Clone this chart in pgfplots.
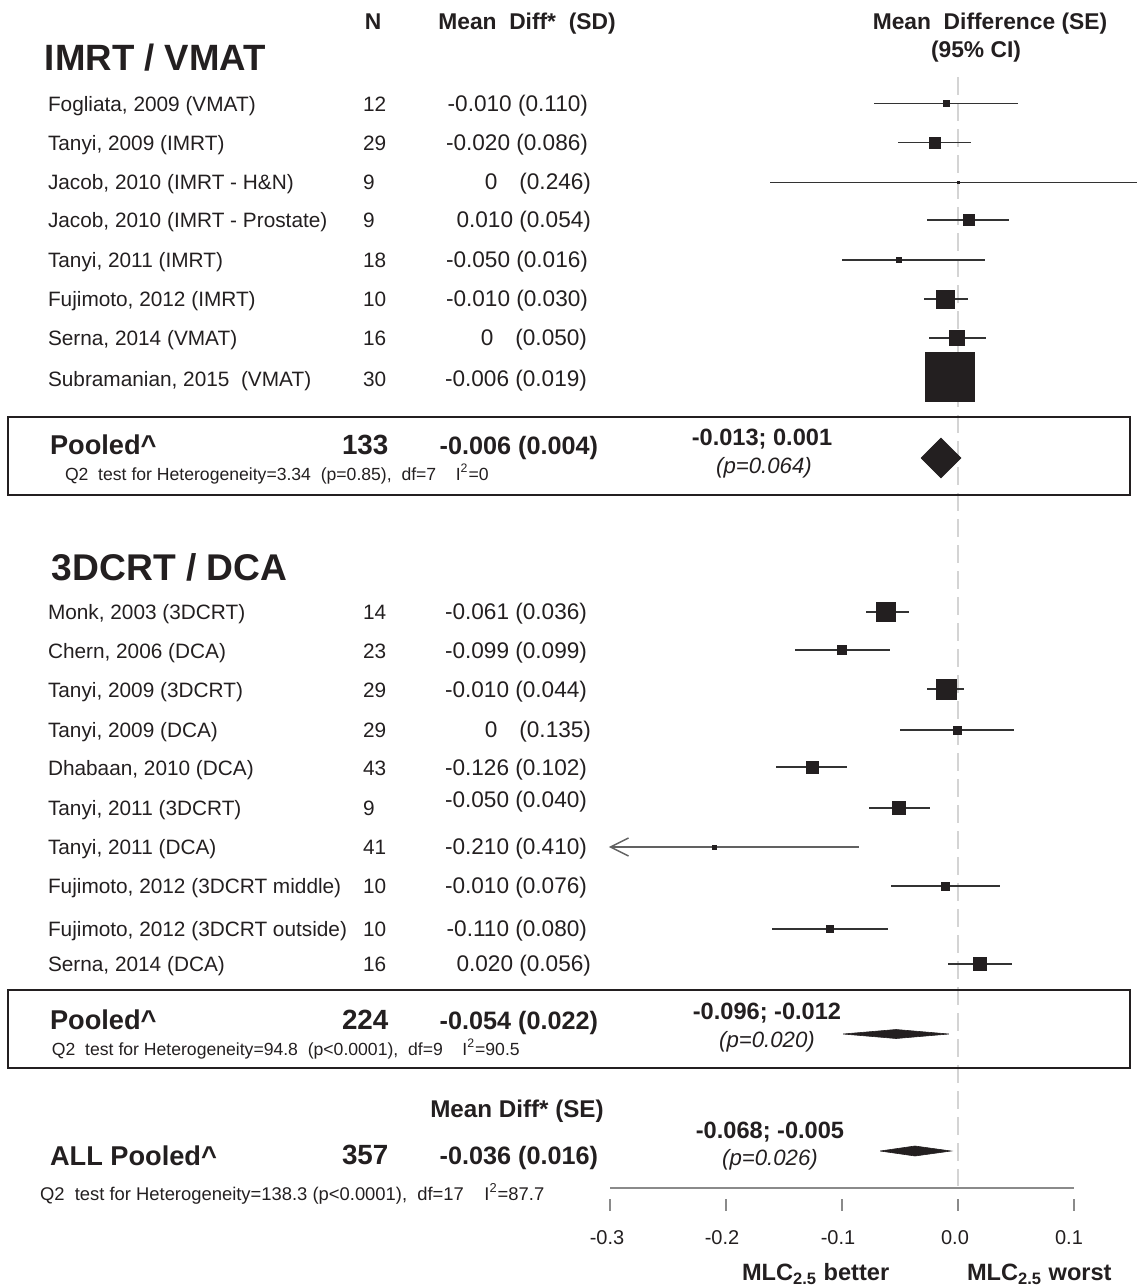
\documentclass[border=0pt]{standalone}
\usepackage{pgfplots}
\pgfplotsset{compat=1.18}
\usepackage{pgfplotstable}
\usepackage{fontspec}
\setmainfont{Liberation Sans}
\usetikzlibrary{arrows.meta}
\definecolor{ink}{HTML}{231F20}
\definecolor{cil}{HTML}{333333}
\definecolor{zer}{HTML}{D4D4D4}
\definecolor{axg}{HTML}{8A8A8A}
\newcommand\fs[1]{\fontsize{#1}{#1}\selectfont}

% y (pixel row), mean, CI low, CI high, square side (px)
\pgfplotstableread{
y m lo hi s
103.5 -0.0103 -0.0724 0.0517 6
142.5 -0.0198 -0.0517 0.0112 11
182.5 0.0000 -0.1620 0.1543 2
220 0.0095 -0.0267 0.0440 11
260 -0.0509 -0.1000 0.0233 5
299 -0.0112 -0.0293 0.0086 18
338 -0.0009 -0.0250 0.0241 15
377 -0.0069 -0.0069 -0.0069 49
}\imrt

\pgfplotstableread{
y m lo hi s
612 -0.0621 -0.0793 -0.0422 19
650 -0.1000 -0.1405 -0.0586 9
689 -0.0103 -0.0267 0.0052 20
730 -0.0009 -0.0500 0.0483 8
767 -0.1259 -0.1569 -0.0957 12
808 -0.0509 -0.0767 -0.0241 13
886 -0.0112 -0.0578 0.0362 8
929 -0.1103 -0.1603 -0.0603 7
964 0.0190 -0.0086 0.0466 13
}\dcrt

\pgfplotstableread{
y m s
847 -0.2103 4
}\tanyidca

\pgfplotsset{sqmarks/.style={scatter, only marks, mark=square*,
  scatter/use mapped color={draw=ink, fill=ink},
  visualization depends on={\thisrow{s} \as \ssize},
  scatter/@pre marker code/.append style={/tikz/mark size=0.25*\ssize},
  mark options={line width=0.1pt}}}

\begin{document}
\begin{tikzpicture}
\begin{axis}[name=main, scale only axis, width=568.5pt, height=643.5pt,
  xmin=-0.825862, xmax=0.154310, ymin=0, ymax=1287, y dir=reverse,
  axis lines=none, clip=false]

% zero reference line
\addplot[zer, line width=1pt, dash pattern=on 9pt off 4pt] coordinates {(0,77) (0,1186)};

% pooled boxes
\addplot[ink, line width=1.2pt, line join=miter] coordinates {(0,417) (0.148276,417) (0.148276,495) (-0.818966,495) (-0.818966,417) (0,417)};
\addplot[ink, line width=1.2pt, line join=miter] coordinates {(0,990) (0.148276,990) (0.148276,1068) (-0.818966,1068) (-0.818966,990) (0,990)};

% confidence intervals
\addplot[draw=none, mark=none, forget plot,
  error bars/.cd, x dir=both, x explicit, error mark=none,
  error bar style={draw=cil, line width=0.8pt, solid}]
  table[x=m, y=y, x error plus expr=\thisrow{hi}-\thisrow{m}, x error minus expr=\thisrow{m}-\thisrow{lo}]{\imrt};
\addplot[draw=none, mark=none, forget plot,
  error bars/.cd, x dir=both, x explicit, error mark=none,
  error bar style={draw=cil, line width=0.8pt, solid}]
  table[x=m, y=y, x error plus expr=\thisrow{hi}-\thisrow{m}, x error minus expr=\thisrow{m}-\thisrow{lo}]{\dcrt};
\addplot[draw=black!62, line width=0.9pt, {Straight Barb[length=9pt,width=9pt,line width=0.7pt]}-] coordinates {(-0.3009,847) (-0.0853,847)};

% study squares
\addplot[sqmarks] table[x=m, y=y]{\imrt};
\addplot[sqmarks] table[x=m, y=y]{\dcrt};
\addplot[sqmarks] table[x=m, y=y]{\tanyidca};

% pooled diamonds
\addplot[fill=ink, draw=ink, line width=0.3pt] coordinates {(-0.0319,458) (-0.0147,438) (0.0026,458) (-0.0147,478) (-0.0319,458)};
\addplot[fill=ink, draw=ink, line width=0.3pt] coordinates {(-0.0991,1034) (-0.0534,1029.5) (-0.0078,1034) (-0.0534,1038.5) (-0.0991,1034)};
\addplot[fill=ink, draw=ink, line width=0.3pt] coordinates {(-0.0672,1151) (-0.0371,1146) (-0.0060,1151) (-0.0371,1156) (-0.0672,1151)};

% bottom axis
\addplot[axg, line width=1pt] coordinates {(-0.3,1188) (0.1,1188)};
\pgfplotsinvokeforeach{-0.3,-0.2,-0.1,0,0.1}{
  \addplot[axg, line width=0.8pt] coordinates {(#1,1199) (#1,1211)};
}
\end{axis}

\begin{scope}[shift={(main.north west)}, x=0.5pt, y=-0.5pt,
  every node/.style={inner sep=0pt, outer sep=0pt, text=ink}]
% headers
\node[anchor=base, font=\fs{11.4pt}\bfseries] at (373,30) {N};
\node[anchor=base, font=\fs{11.4pt}\bfseries] at (527,30) {Mean\ \ Diff*\ \ (SD)};
\node[anchor=base, font=\fs{11.4pt}\bfseries] at (990,30) {Mean\ \ Difference (SE)};
\node[anchor=base, font=\fs{11.4pt}\bfseries] at (976,58) {(95\% CI)};
\node[anchor=base west, font=\fs{18.3pt}\bfseries] at (45,71) {IMRT / VMAT};
\node[anchor=base west, font=\fs{18.6pt}\bfseries] at (52,581) {3DCRT / DCA};

% study rows
\begin{scope}[every node/.append style={font=\fs{10.4pt}}]
\node[anchor=base west] at (48,111.5) {Fogliata, 2009 (VMAT)};
\node[anchor=base west] at (48,150.5) {Tanyi, 2009 (IMRT)};
\node[anchor=base west] at (48,189.5) {Jacob, 2010 (IMRT - H\&N)};
\node[anchor=base west] at (48,227.5) {Jacob, 2010 (IMRT - Prostate)};
\node[anchor=base west] at (48,267.5) {Tanyi, 2011 (IMRT)};
\node[anchor=base west] at (48,306.5) {Fujimoto, 2012 (IMRT)};
\node[anchor=base west] at (48,345.5) {Serna, 2014 (VMAT)};
\node[anchor=base west] at (48,386.5) {Subramanian, 2015\ \ (VMAT)};
\node[anchor=base west] at (363,111.5) {12};
\node[anchor=base west] at (363,150.5) {29};
\node[anchor=base west] at (363,189.5) {9};
\node[anchor=base west] at (363,227.5) {9};
\node[anchor=base west] at (363,267.5) {18};
\node[anchor=base west] at (363,306.5) {10};
\node[anchor=base west] at (363,345.5) {16};
\node[anchor=base west] at (363,386.5) {30};
\node[anchor=base west] at (48,619.5) {Monk, 2003 (3DCRT)};
\node[anchor=base west] at (48,658.5) {Chern, 2006 (DCA)};
\node[anchor=base west] at (48,697.5) {Tanyi, 2009 (3DCRT)};
\node[anchor=base west] at (48,737.5) {Tanyi, 2009 (DCA)};
\node[anchor=base west] at (48,775.5) {Dhabaan, 2010 (DCA)};
\node[anchor=base west] at (48,815.5) {Tanyi, 2011 (3DCRT)};
\node[anchor=base west] at (48,854.5) {Tanyi, 2011 (DCA)};
\node[anchor=base west] at (48,893.5) {Fujimoto, 2012 (3DCRT middle)};
\node[anchor=base west] at (48,936.5) {Fujimoto, 2012 (3DCRT outside)};
\node[anchor=base west] at (48,971.5) {Serna, 2014 (DCA)};
\node[anchor=base west] at (363,619.5) {14};
\node[anchor=base west] at (363,658.5) {23};
\node[anchor=base west] at (363,697.5) {29};
\node[anchor=base west] at (363,737.5) {29};
\node[anchor=base west] at (363,775.5) {43};
\node[anchor=base west] at (363,815.5) {9};
\node[anchor=base west] at (363,854.5) {41};
\node[anchor=base west] at (363,893.5) {10};
\node[anchor=base west] at (363,936.5) {10};
\node[anchor=base west] at (363,971.5) {16};
\end{scope}

% mean (SD) column
\begin{scope}[every node/.append style={font=\fs{11.3pt}}]
\node[anchor=base east] at (588,111.5) {-0.010 (0.110)};
\node[anchor=base east] at (588,150.5) {-0.020 (0.086)};
\node[anchor=base east] at (591,189.5) {0\hspace{11pt}(0.246)};
\node[anchor=base east] at (591,227.5) {0.010 (0.054)};
\node[anchor=base east] at (588,267.5) {-0.050 (0.016)};
\node[anchor=base east] at (588,306.5) {-0.010 (0.030)};
\node[anchor=base east] at (587,345.5) {0\hspace{11pt}(0.050)};
\node[anchor=base east] at (587,386.5) {-0.006 (0.019)};
\node[anchor=base east] at (587,619.5) {-0.061 (0.036)};
\node[anchor=base east] at (587,658.5) {-0.099 (0.099)};
\node[anchor=base east] at (587,697.5) {-0.010 (0.044)};
\node[anchor=base east] at (591,737.5) {0\hspace{11pt}(0.135)};
\node[anchor=base east] at (587,775.5) {-0.126 (0.102)};
\node[anchor=base east] at (587,807.5) {-0.050 (0.040)};
\node[anchor=base east] at (587,854.5) {-0.210 (0.410)};
\node[anchor=base east] at (587,893.5) {-0.010 (0.076)};
\node[anchor=base east] at (587,936.5) {-0.110 (0.080)};
\node[anchor=base east] at (591,971.5) {0.020 (0.056)};
\end{scope}

% pooled 1
\node[anchor=base west, font=\fs{13.6pt}\bfseries] at (50,455) {Pooled\textasciicircum};
\node[anchor=base west, font=\fs{13.9pt}\bfseries] at (342,455) {133};
\node[anchor=base east, font=\fs{12.6pt}\bfseries] at (598,455) {-0.006 (0.004)};
\node[anchor=base west, font=\fs{8.8pt}] at (65,480.5) {Q2\ \ test for Heterogeneity=3.34\ \ (p=0.85),\ \ df=7\ \ \ \ I\textsuperscript{2}=0};
\node[anchor=base, font=\fs{11.8pt}\bfseries] at (762,446) {-0.013; 0.001};
\node[anchor=base, font=\fs{11.1pt}\itshape] at (764,474) {(p=0.064)};

% pooled 2
\node[anchor=base west, font=\fs{13.6pt}\bfseries] at (50,1030) {Pooled\textasciicircum};
\node[anchor=base west, font=\fs{13.9pt}\bfseries] at (342,1030) {224};
\node[anchor=base east, font=\fs{12.6pt}\bfseries] at (598,1030) {-0.054 (0.022)};
\node[anchor=base west, font=\fs{8.8pt}] at (52,1055.5) {Q2\ \ test for Heterogeneity=94.8\ \ (p<0.0001),\ \ df=9\ \ \ \ I\textsuperscript{2}=90.5};
\node[anchor=base, font=\fs{11.8pt}\bfseries] at (767,1019.5) {-0.096; -0.012};
\node[anchor=base, font=\fs{11.1pt}\itshape] at (767,1048) {(p=0.020)};

% all pooled
\node[anchor=base, font=\fs{12.1pt}\bfseries] at (517,1118) {Mean Diff* (SE)};
\node[anchor=base west, font=\fs{13.6pt}\bfseries] at (50,1166) {ALL Pooled\textasciicircum};
\node[anchor=base west, font=\fs{13.9pt}\bfseries] at (342,1165) {357};
\node[anchor=base east, font=\fs{12.6pt}\bfseries] at (598,1165) {-0.036 (0.016)};
\node[anchor=base west, font=\fs{9.2pt}] at (40,1200.5) {Q2\ \ test for Heterogeneity=138.3 (p<0.0001),\ \ df=17\ \ \ \ I\textsuperscript{2}=87.7};
\node[anchor=base, font=\fs{11.8pt}\bfseries] at (770,1138.5) {-0.068; -0.005};
\node[anchor=base, font=\fs{11.1pt}\itshape] at (770,1166) {(p=0.026)};

% tick labels
\begin{scope}[every node/.append style={font=\fs{10pt}}]
\node[anchor=base] at (607,1245) {-0.3};
\node[anchor=base] at (722,1245) {-0.2};
\node[anchor=base] at (838,1245) {-0.1};
\node[anchor=base] at (955,1245) {0.0};
\node[anchor=base] at (1069,1245) {0.1};
\end{scope}
\node[anchor=base west, font=\fs{11.8pt}\bfseries] at (742,1281) {MLC\textsubscript{2.5} better};
\node[anchor=base west, font=\fs{11.8pt}\bfseries] at (967,1281) {MLC\textsubscript{2.5} worst};
\end{scope}

\pgfresetboundingbox
\path[use as bounding box] (main.south west) rectangle (main.north east);
\end{tikzpicture}
\end{document}
